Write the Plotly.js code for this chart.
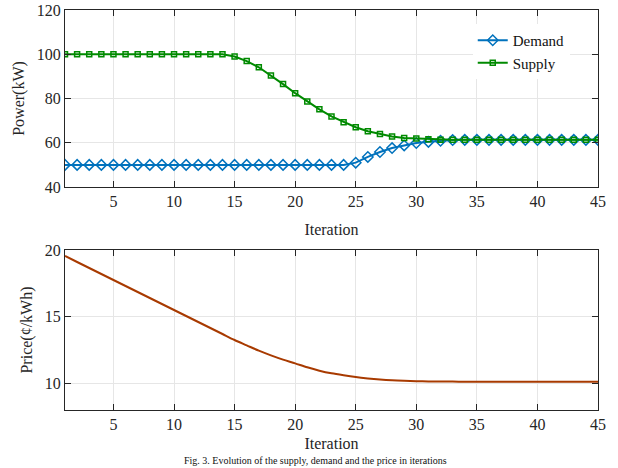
<!DOCTYPE html>
<html><head><meta charset="utf-8">
<script src="https://cdn.plot.ly/plotly-3.0.1.min.js"></script>
<style>body{margin:0;background:#fff}#c{width:618px;height:468px}</style>
</head><body><div id="c"></div>
<script>
const iterations = Array.from({length:45},(_,i)=>i+1);
const demand = [50,50,50,50,50,50,50,50,50,50,50,50,50,50,50,50,50,50,50,50,50,50,50,50,
  51.0,53.6,55.8,57.6,58.8,59.9,60.4,60.9,61.2,61.3,61.3,61.3,61.3,61.3,61.3,61.3,61.3,61.3,61.3,61.3,61.3];
const supply = [100,100,100,100,100,100,100,100,100,100,100,100,100,100,
  99.0,96.9,94.1,90.4,86.5,82.4,78.6,75.1,71.9,69.3,67.0,65.2,63.9,62.8,62.2,61.9,61.6,61.4,61.3,61.3,61.3,61.3,61.3,61.3,61.3,61.3,61.3,61.3,61.3,61.3,61.3];
const price = [19.55,19.1,18.65,18.2,17.75,17.3,16.85,16.4,15.95,15.5,15.05,14.6,14.15,13.7,13.25,
  12.85,12.45,12.1,11.78,11.5,11.2,10.95,10.75,10.6,10.47,10.37,10.29,10.23,10.19,10.16,10.14,10.13,10.13,10.12,10.12,10.12,10.12,10.12,10.12,10.12,10.12,10.12,10.12,10.12,10.12];
const xTicks = [5,10,15,20,25,30,35,40,45];
const powerTicks = [40,60,80,100,120];
const priceTicks = [10,15,20];

const FAM = '"Times New Roman", "Liberation Serif", "DejaVu Serif", serif';
const font = {family:FAM, size:16, color:'#262626'};
const axBase = {showline:true, linecolor:'#262626', linewidth:1, mirror:'ticks', ticks:'inside', ticklen:6,
  tickcolor:'#262626', showgrid:true, gridcolor:'#e6e6e6', zeroline:false, tickfont:font};

const traces = [
  {x:iterations, y:demand, name:'Demand', mode:'lines+markers', xaxis:'x', yaxis:'y',
   line:{color:'#0072BD', width:2}, marker:{symbol:'diamond-open', size:8, color:'#0072BD', line:{width:1.5}}},
  {x:iterations, y:supply, name:'Supply', mode:'lines+markers', xaxis:'x', yaxis:'y',
   line:{color:'#008a00', width:2}, marker:{symbol:'square-open', size:5, color:'#008a00', line:{width:1.5}}},
  {x:iterations, y:price, name:'Price', mode:'lines', xaxis:'x2', yaxis:'y2', showlegend:false,
   line:{color:'#A83A00', width:2, shape:'spline', smoothing:0.8}}
];

const layout = {
  width:618, height:468, margin:{l:65, r:20, t:10, b:58},
  paper_bgcolor:'#fff', plot_bgcolor:'#fff', font:font,
  xaxis:Object.assign({}, axBase, {domain:[0,1], range:[1,45], tickvals:xTicks, anchor:'y',
    title:{text:'Iteration', font:font, standoff:14}}),
  yaxis:Object.assign({}, axBase, {domain:[0.5575,1], range:[40,120], tickvals:powerTicks, anchor:'x',
    title:{text:'Power(kW)', font:font, standoff:8}}),
  xaxis2:Object.assign({}, axBase, {domain:[0,1], range:[1,45], tickvals:xTicks, anchor:'y2',
    title:{text:'Iteration', font:font, standoff:5}}),
  yaxis2:Object.assign({}, axBase, {domain:[0,0.4], range:[8,20], tickvals:priceTicks, anchor:'x2',
    title:{text:'Price(¢/kWh)', font:font, standoff:8}}),
  legend:{x:0.765, y:0.965, xanchor:'left', yanchor:'top', bgcolor:'#fff', borderwidth:0,
    font:{family:FAM, size:15, color:'#111'}, tracegroupgap:0},
  showlegend:true,
  annotations:[{text:'Fig. 3. Evolution of the supply, demand and the price in iterations', xref:'paper', yref:'paper',
    x:0.47, y:-0.1445, xanchor:'center', yanchor:'bottom', showarrow:false,
    font:{family:FAM, size:10, color:'#111'}}]
};
Plotly.newPlot('c', traces, layout, {displayModeBar:false, staticPlot:true});
</script></body></html>
